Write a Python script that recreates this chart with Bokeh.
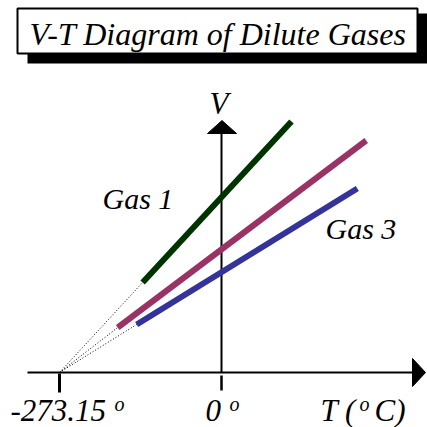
from bokeh.plotting import figure
from bokeh.models import Range1d
from bokeh.core.properties import value
from bokeh.embed import file_html
from bokeh.resources import INLINE

# ---- data (temperature in deg C, volume in arbitrary units) ----
gas_names = ["Gas 1", "Gas 2", "Gas 3"]
gas_colors = ["#003300", "#993366", "#333399"]
T_start = [-133, -175, -143]
T_end = [118, 244, 229]
V_start = [90, 45, 48]
V_end = [251, 232, 184]
T_zero = -273.15
tick_labels = ["-273.15", "0"]

# ---- layout helpers: page pixel -> data ----
K = 162 / 273.15
def tx(px):
    return (px - 221) / K
def ty(py):
    return 372 - py

W = H = 427
p = figure(width=W, height=H, output_backend="svg", toolbar_location=None,
           x_range=Range1d(tx(0), tx(W)), y_range=Range1d(ty(H), ty(0)),
           min_border=0, x_axis_type=None, y_axis_type=None)
p.grid.visible = False
p.outline_line_color = None
p.background_fill_color = "white"
p.border_fill_color = "white"

SERIF = value("Liberation Serif")

def label(px, py, s, size=30, align="left"):
    # py is the desired baseline; compensate renderer baseline offset
    p.text(x=[tx(px)], y=[ty(py - 0.3 * size)], text=[s], text_font=SERIF,
           text_font_style="italic", text_font_size=f"{size}px", text_align=align,
           text_baseline="alphabetic", text_color="black")

# title box with shadow
p.quad(left=[tx(27)], right=[tx(430)], top=[ty(13)], bottom=[ty(63)],
       fill_color="black", line_color=None)
p.quad(left=[tx(17)], right=[tx(417)], top=[ty(8)], bottom=[ty(53)],
       fill_color="white", line_color="black", line_width=2)
label(217.5, 43, "V-T Diagram of Dilute Gases", 32, "center")

# axes
p.line([tx(27), tx(412)], [0, 0], line_color="black", line_width=2)
p.line([0, 0], [0, ty(133)], line_color="black", line_width=2)
p.patch([tx(412), tx(412), tx(425)], [ty(358), ty(386), ty(372)], color="black")
p.patch([tx(207), tx(236), tx(221.5)], [ty(133), ty(133), ty(120)], color="black")
p.line([T_zero, T_zero], [ty(373), ty(392)], line_color="black", line_width=3)
p.line([0, 0], [ty(375), ty(390)], line_color="black", line_width=2.5)

# extrapolation dotted lines
for ts, vs in zip(T_start, V_start):
    p.line([T_zero, ts], [0, vs], line_color="black", line_width=1, line_dash="1 2")

# gas lines
for ts, te, vs, ve, c in zip(T_start, T_end, V_start, V_end, gas_colors):
    p.line([ts, te], [vs, ve], line_color=c, line_width=6, line_cap="butt")

label(102, 207, gas_names[0], 30)
label(325, 237, gas_names[2], 30)
label(209, 112, "V", 31)
label(10, 419, tick_labels[0], 31)
label(114, 409, "o", 20)
label(205, 419, tick_labels[1], 31)
label(229, 409, "o", 20)
label(320, 419, "T (", 31)
label(359, 409, "o", 20)
label(374, 419, "C)", 31)

open("out.html", "w").write(file_html(p, INLINE))
